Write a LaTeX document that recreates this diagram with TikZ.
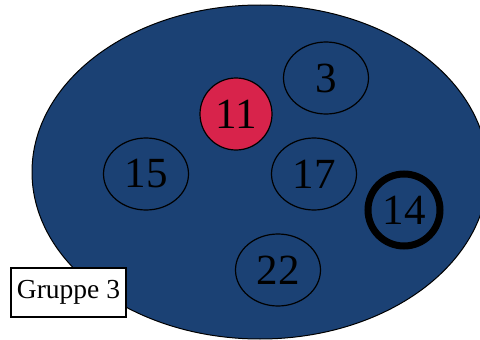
\documentclass[tikz,border=0pt]{standalone}
\usepackage{fontspec}
\setmainfont{Liberation Serif}
\usetikzlibrary{shapes.geometric}
\definecolor{grpblue}{HTML}{1B4174}
\definecolor{hotred}{HTML}{D8234B}
\begin{document}
\begin{tikzpicture}[x=1pt,y=-1pt,
  member/.style={draw=black, line width=1.2pt, ellipse, inner sep=0pt, minimum width=85pt, minimum height=72pt, font=\fontsize{43}{43}\selectfont},
  lead/.style={member, circle, minimum size=72pt, fill=hotred},
  marked/.style={member, circle, minimum size=72pt, line width=7pt},
  grp/.style={draw=black, line width=1pt, ellipse, fill=grpblue, inner sep=0pt, minimum width=456pt, minimum height=334pt},
  tag/.style={draw=black, line width=1.2pt, fill=white, inner sep=0pt, minimum width=115pt, minimum height=49pt, font=\fontsize{27.5}{27.5}\selectfont}]
\useasboundingbox (0,0) rectangle (480,340);
\begin{scope}
\clip (0,0) rectangle (480,340);
\node[grp] (g) at (260,172) {};
\end{scope}
\node[member] (n3) at (326,78) {3};
\node[lead] (n11) at (236,114) {11};
\node[member] (n15) at (146,174) {15};
\node[member] (n17) at (314,174) {17};
\node[marked] (n14) at (404,210) {14};
\node[member] (n22) at (278,270) {22};
\node[tag] (t) at (68.5,292.5) {Gruppe 3};
\end{tikzpicture}
\end{document}
